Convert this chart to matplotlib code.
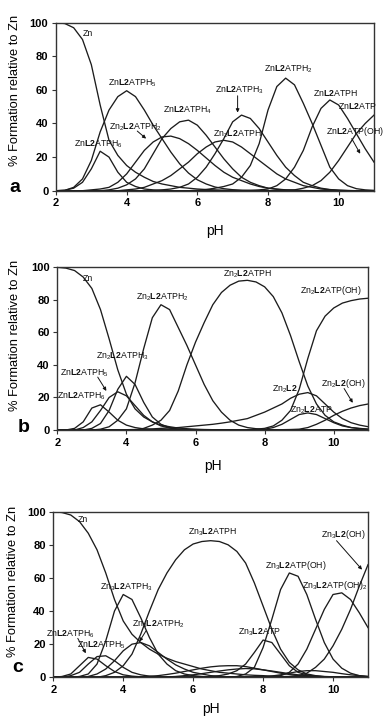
import numpy as np
import matplotlib
matplotlib.use('Agg')
import matplotlib.pyplot as plt

plt.rcParams['font.family'] = ['Liberation Sans', 'DejaVu Sans']
plt.rcParams['mathtext.fontset'] = 'custom'
plt.rcParams['mathtext.rm'] = 'Liberation Sans'
plt.rcParams['mathtext.it'] = 'Liberation Sans'
plt.rcParams['mathtext.bf'] = 'Liberation Sans:bold'

# ---------------- data ----------------
PH = [2.0, 2.25, 2.5, 2.75, 3.0, 3.25, 3.5, 3.75, 4.0, 4.25, 4.5, 4.75,
      5.0, 5.25, 5.5, 5.75, 6.0, 6.25, 6.5, 6.75, 7.0, 7.25, 7.5, 7.75,
      8.0, 8.25, 8.5, 8.75, 9.0, 9.25, 9.5, 9.75, 10.0, 10.25, 10.5, 10.75, 11.0]
X_TICKS = [2, 4, 6, 8, 10]
Y_TICKS = [0, 20, 40, 60, 80, 100]

# panel a
A_ZN = [100, 99.5, 97, 90, 75, 51, 30, 21, 15, 11, 8, 5.5,
        4, 3, 2, 1.5, 1, 0.7, 0.5, 0.3, 0.2, 0.1, 0.1, 0,
        0, 0, 0, 0, 0, 0, 0, 0, 0, 0, 0, 0, 0]
A_ZNL2ATPH6 = [0, 0.3, 1.5, 5, 13, 23.5, 20, 11, 5, 2.5, 1, 0.5,
               0.2, 0, 0, 0, 0, 0, 0, 0, 0, 0, 0, 0,
               0, 0, 0, 0, 0, 0, 0, 0, 0, 0, 0, 0, 0]
A_ZNL2ATPH5 = [0, 0.2, 2, 7, 18, 35, 48, 56, 59.5, 56, 48, 39,
               31, 23, 16, 10.5, 6.5, 4, 2.2, 1.2, 0.6, 0.3, 0.1, 0,
               0, 0, 0, 0, 0, 0, 0, 0, 0, 0, 0, 0, 0]
A_ZN2L2ATPH2 = [0, 0, 0, 0, 0.5, 1, 2, 5, 10, 17, 24, 29,
                32, 32.5, 31, 28, 24, 19.5, 15, 11, 8, 6, 4, 2.5,
                1.5, 1, 0.5, 0.3, 0.1, 0, 0, 0, 0, 0, 0, 0, 0]
A_ZNL2ATPH4 = [0, 0, 0, 0, 0, 0, 0.5, 1.5, 3.5, 7, 13, 22,
               31, 37, 41, 42, 39, 33, 26, 19, 13, 8, 5, 3,
               1.5, 0.8, 0.4, 0.2, 0, 0, 0, 0, 0, 0, 0, 0, 0]
A_ZN2L2ATPH = [0, 0, 0, 0, 0, 0, 0, 0, 0.5, 1, 2, 4,
               6, 9, 13, 17, 22, 26, 29, 30, 29, 26, 22, 18,
               14, 10, 7, 5, 3, 2, 1, 0.6, 0.3, 0.1, 0, 0, 0]
A_ZNL2ATPH3 = [0, 0, 0, 0, 0, 0, 0, 0, 0, 0, 0, 0,
               0.5, 1, 2, 4, 8, 14, 22, 31, 41, 45, 43, 37,
               29, 21, 14, 9, 5, 3, 1.5, 0.7, 0.3, 0.1, 0, 0, 0]
A_ZNL2ATPH2 = [0, 0, 0, 0, 0, 0, 0, 0, 0, 0, 0, 0,
               0, 0, 0, 0, 0.3, 0.7, 1.5, 2.5, 4, 8, 15, 28,
               48, 62, 67, 63, 52, 40, 27, 14, 7, 3, 1.2, 0.5, 0.2]
A_ZNL2ATPH = [0, 0, 0, 0, 0, 0, 0, 0, 0, 0, 0, 0,
              0, 0, 0, 0, 0, 0, 0, 0, 0, 0, 0.2, 0.5,
              1, 3, 7, 14, 24, 38, 49, 54, 51, 43, 34, 25, 17]
A_ZNL2ATP = [0, 0, 0, 0, 0, 0, 0, 0, 0, 0, 0, 0,
             0, 0, 0, 0, 0, 0, 0, 0, 0, 0, 0, 0,
             0, 0, 0.2, 0.5, 1.5, 3, 6, 11, 18, 26, 34, 40, 45]

# panel b
B_ZN = [100, 99.5, 98, 94, 87, 74, 56, 37, 22, 13, 8, 5,
        3, 2, 1.2, 0.8, 0.5, 0.3, 0.2, 0.1, 0, 0, 0, 0,
        0, 0, 0, 0, 0, 0, 0, 0, 0, 0, 0, 0, 0]
B_ZNL2ATPH6 = [0, 0, 1, 5, 13.5, 15.5, 11, 6, 3, 1.5, 0.7, 0.3,
               0, 0, 0, 0, 0, 0, 0, 0, 0, 0, 0, 0,
               0, 0, 0, 0, 0, 0, 0, 0, 0, 0, 0, 0, 0]
B_ZNL2ATPH5 = [0, 0, 0, 1.5, 5, 12, 20, 23.5, 21, 15, 9, 5,
               2.5, 1.2, 0.5, 0.2, 0, 0, 0, 0, 0, 0, 0, 0,
               0, 0, 0, 0, 0, 0, 0, 0, 0, 0, 0, 0, 0]
B_ZN2L2ATPH3 = [0, 0, 0, 0, 1, 4, 12, 25, 33, 28, 17, 8,
                3.5, 1.5, 0.5, 0.2, 0, 0, 0, 0, 0, 0, 0, 0,
                0, 0, 0, 0, 0, 0, 0, 0, 0, 0, 0, 0, 0]
B_ZN2L2ATPH2 = [0, 0, 0, 0, 0, 0.5, 2, 6, 13, 29, 50, 69,
                77, 74, 63, 52, 40, 28, 18, 11, 6, 3, 1.5, 0.8,
                0.3, 0, 0, 0, 0, 0, 0, 0, 0, 0, 0, 0, 0]
B_ZN2L2ATPH = [0, 0, 0, 0, 0, 0, 0, 0, 0, 0, 1, 3,
               6, 12, 24, 40, 54, 66, 77, 84.5, 89, 91.5, 92, 91,
               88, 82, 72, 58, 42, 27, 16, 9, 5, 3, 1.5, 1, 0.5]
B_ZN2L2ATPOH = [0, 0, 0, 0, 0, 0, 0, 0, 0, 0, 0, 0,
                0, 0, 0, 0, 0, 0, 0, 0, 0, 0, 0.2, 0.5,
                1, 2.5, 6, 12, 25, 44, 61, 70, 75, 78, 79.5, 80.5, 81]
B_ZN2L2 = [0, 0, 0, 0, 0, 0, 0, 0, 0.2, 0.3, 0.5, 0.7,
           1, 1.2, 1.5, 2, 2.5, 3, 3.5, 4.2, 5, 6, 7, 9,
           11, 13.5, 16, 19.5, 22, 23, 21, 16, 11, 7, 4.5, 3, 2]
B_ZN2L2ATP = [0, 0, 0, 0, 0, 0, 0, 0, 0, 0, 0, 0,
              0, 0, 0, 0, 0, 0, 0, 0, 0, 0, 0, 0.2,
              0.5, 1.5, 3.5, 6.5, 9.5, 10.5, 9.5, 7, 4.5, 2.5, 1.5, 0.8, 0.5]
B_ZN2L2OH = [0, 0, 0, 0, 0, 0, 0, 0, 0, 0, 0, 0,
             0, 0, 0, 0, 0, 0, 0, 0, 0, 0, 0, 0,
             0, 0, 0.2, 0.3, 0.5, 1.5, 3.5, 6, 9, 11.5, 13.5, 15, 16]

# panel c
C_ZN = [100, 99.5, 98, 94, 87, 77, 63, 47, 34, 26, 21, 17,
        14, 11.5, 9.5, 8, 6.5, 5, 4, 3, 2.5, 2, 1.5, 1.2,
        1, 0.7, 0.5, 0.4, 0.3, 0.2, 0.1, 0, 0, 0, 0, 0, 0]
C_ZNL2ATPH6 = [0, 0.5, 2, 7, 12, 11, 7, 3.5, 1.5, 0.7, 0.3, 0,
               0, 0, 0, 0, 0, 0, 0, 0, 0, 0, 0, 0,
               0, 0, 0, 0, 0, 0, 0, 0, 0, 0, 0, 0, 0]
C_ZNL2ATPH5 = [0, 0, 1, 3, 8, 12.5, 13, 10, 6, 3, 1.5, 0.7,
               0.3, 0, 0, 0, 0, 0, 0, 0, 0, 0, 0, 0,
               0, 0, 0, 0, 0, 0, 0, 0, 0, 0, 0, 0, 0]
C_ZN3L2ATPH3 = [0, 0, 0, 0.5, 2, 8, 22, 40, 50, 47, 36, 24,
                14, 8, 4, 2, 1, 0.5, 0.3, 0, 0, 0, 0, 0,
                0, 0, 0, 0, 0, 0, 0, 0, 0, 0, 0, 0, 0]
C_ZN3L2ATPH2 = [0, 0, 0, 0, 0.5, 2, 5, 10, 16, 20, 21, 19,
                15, 11, 7.5, 5, 3, 2, 1, 0.6, 0.3, 0, 0, 0,
                0, 0, 0, 0, 0, 0, 0, 0, 0, 0, 0, 0, 0]
C_ZN3L2ATPH = [0, 0, 0, 0, 0, 0, 1, 3, 7, 14, 26, 40,
               53, 63, 71, 77, 80.5, 82, 82.5, 82, 80, 76, 69, 57,
               43, 29, 17, 9, 4.5, 2, 1, 0.5, 0.3, 0, 0, 0, 0]
C_ZN3L2ATP = [0, 0, 0, 0, 0, 0, 0, 0, 0, 0, 0, 0,
              0, 0, 0, 0, 0, 0, 0.5, 1, 2, 4, 8, 15,
              22.5, 21, 14, 7, 3, 1.5, 0.7, 0.4, 0.2, 0, 0, 0, 0]
C_ZN3L2ATPOH = [0, 0, 0, 0, 0, 0, 0, 0, 0, 0, 0, 0,
                0, 0, 0, 0, 0, 0, 0, 0, 0, 0.5, 2, 6,
                18, 35, 53, 63, 61, 50, 35, 21, 11, 5.5, 2.5, 1, 0.5]
C_ZN3L2ATPOH2 = [0, 0, 0, 0, 0, 0, 0, 0, 0, 0, 0, 0,
                 0, 0, 0, 0, 0, 0, 0, 0, 0, 0, 0, 0,
                 0.2, 0.5, 1, 3, 8, 17, 29, 41, 50, 51, 47, 39, 30]
C_ZN3L2OH = [0, 0, 0, 0, 0, 0, 0, 0, 0, 0, 0, 0,
             0, 0, 0, 0, 0, 0, 0, 0, 0, 0, 0, 0,
             0, 0, 0.3, 0.5, 1, 2.5, 6, 11, 19, 29, 41, 55, 68]
C_MINOR1 = [0, 0, 0, 0, 0, 0, 0, 0, 0, 0, 0.3, 0.6,
            1, 1.7, 2.5, 3.5, 4.5, 5.5, 6.3, 6.8, 7, 7, 6.5, 5.5,
            4.5, 3.5, 2.5, 1.7, 1, 0.7, 0.4, 0.2, 0.1, 0, 0, 0, 0]
C_MINOR2 = [0, 0, 0, 0, 0, 0, 0, 0, 0, 0, 0, 0,
            0, 0.2, 0.5, 1, 1.5, 2.2, 3, 3.8, 4.5, 5, 5.3, 5.1,
            4.5, 3.8, 3, 2.2, 1.5, 1, 0.6, 0.3, 0.2, 0, 0, 0, 0]
C_MINOR3 = [0, 0, 0, 0, 0, 0, 0, 0, 0, 0, 0, 0,
            0, 0, 0, 0, 0, 0, 0, 0, 0, 0, 0, 0.1,
            0.3, 0.8, 1.5, 2.5, 3.5, 4, 4, 3.5, 3, 2.2, 1.5, 1, 0.5]

SERIES_A = [A_ZN, A_ZNL2ATPH6, A_ZNL2ATPH5, A_ZN2L2ATPH2, A_ZNL2ATPH4,
            A_ZN2L2ATPH, A_ZNL2ATPH3, A_ZNL2ATPH2, A_ZNL2ATPH, A_ZNL2ATP]
SERIES_B = [B_ZN, B_ZNL2ATPH6, B_ZNL2ATPH5, B_ZN2L2ATPH3, B_ZN2L2ATPH2,
            B_ZN2L2ATPH, B_ZN2L2ATPOH, B_ZN2L2, B_ZN2L2ATP, B_ZN2L2OH]
SERIES_C = [C_ZN, C_ZNL2ATPH6, C_ZNL2ATPH5, C_ZN3L2ATPH3, C_ZN3L2ATPH2,
            C_ZN3L2ATPH, C_ZN3L2ATP, C_ZN3L2ATPOH, C_ZN3L2ATPOH2, C_ZN3L2OH,
            C_MINOR1, C_MINOR2, C_MINOR3]

for s in SERIES_A + SERIES_B + SERIES_C:
    assert len(s) == len(PH), len(s)

# labels: (text, pH, %)
L2 = r'$\mathbf{L2}$'
LABELS_A = [
    ('Zn', 2.91, 93.5),
    ('Zn' + L2 + r'ATPH$_5$', 4.15, 64.3),
    ('Zn$_2$' + L2 + r'ATPH$_2$', 4.25, 38.0),
    ('Zn' + L2 + r'ATPH$_6$', 3.19, 28.2),
    ('Zn' + L2 + r'ATPH$_4$', 5.73, 48.0),
    ('Zn' + L2 + r'ATPH$_3$', 7.18, 60.0),
    ('Zn$_2$' + L2 + 'ATPH', 7.14, 34.0),
    ('Zn' + L2 + r'ATPH$_2$', 8.59, 72.8),
    ('Zn' + L2 + 'ATPH', 9.9, 58.3),
    ('Zn' + L2 + 'ATP', 10.52, 51.0),
    ('Zn' + L2 + 'ATP(OH)', 10.47, 35.0),
]
ARROWS_A = [((4.30, 35.5), (4.55, 31.0)),
            ((7.14, 56.5), (7.14, 46.5)),
            ((10.37, 31.0), (10.61, 22.0))]

LABELS_B = [
    ('Zn', 2.89, 93.3),
    ('Zn$_2$' + L2 + r'ATPH$_2$', 5.03, 82.0),
    ('Zn$_2$' + L2 + 'ATPH', 7.5, 96.3),
    ('Zn$_2$' + L2 + 'ATP(OH)', 9.93, 86.0),
    ('Zn$_2$' + L2 + r'ATPH$_3$', 3.89, 45.7),
    ('Zn' + L2 + r'ATPH$_5$', 2.79, 35.1),
    ('Zn' + L2 + r'ATPH$_6$', 2.70, 21.2),
    ('Zn$_2$' + L2, 8.6, 25.0),
    ('Zn$_2$' + L2 + 'ATP', 9.36, 12.7),
    ('Zn$_2$' + L2 + '(OH)', 10.27, 28.6),
]
ARROWS_B = [((3.17, 32.5), (3.42, 24.0)),
            ((10.30, 25.5), (10.55, 16.7))]

LABELS_C = [
    ('Zn', 2.86, 95.0),
    ('Zn$_3$' + L2 + 'ATPH', 6.55, 88.0),
    ('Zn$_3$' + L2 + '(OH)', 10.28, 86.0),
    ('Zn$_3$' + L2 + 'ATP(OH)', 8.94, 67.8),
    ('Zn$_3$' + L2 + r'ATP(OH)$_2$', 10.04, 55.7),
    ('Zn$_3$' + L2 + r'ATPH$_3$', 4.10, 54.7),
    ('Zn$_3$' + L2 + r'ATPH$_2$', 5.00, 32.6),
    ('Zn$_3$' + L2 + 'ATP', 7.88, 27.6),
    ('Zn' + L2 + r'ATPH$_6$', 2.48, 26.0),
    ('Zn' + L2 + r'ATPH$_5$', 3.39, 19.5),
]
ARROWS_C = [((10.10, 82.5), (10.83, 65.0)),
            ((4.65, 28.0), (4.46, 21.5)),
            ((2.70, 23.5), (2.93, 14.5))]

# ---------------- figure ----------------
W, H = 387, 718
fig = plt.figure(figsize=(W / 100, H / 100), dpi=100)
fig.patch.set_facecolor('white')

LINE_C = '#1c1c1c'


def make_panel(left, right, top, bottom, series, labels, arrows, letter,
               letter_xy, ylab_y, xlab_y, ylab_x):
    ax = fig.add_axes([left / W, 1 - bottom / H, (right - left) / W,
                       (bottom - top) / H])
    for s in series:
        ax.plot(PH, s, color=LINE_C, lw=0.95, solid_joinstyle='round')
    ax.set_xlim(2, 11)
    ax.set_ylim(0, 100)
    ax.set_xticks(X_TICKS)
    ax.set_yticks(Y_TICKS)
    ax.tick_params(direction='out', length=3, width=0.8, pad=2.5,
                   labelsize=8, color='#333333')
    for lab in ax.get_xticklabels() + ax.get_yticklabels():
        lab.set_fontweight('bold')
    for sp in ax.spines.values():
        sp.set_linewidth(1.0)
        sp.set_color('#333333')
    for txt, x, y in labels:
        ax.text(x, y, txt, fontsize=6.3, ha='center', va='center',
                color='#111111', clip_on=False)
    for (x0, y0), (x1, y1) in arrows:
        ax.annotate('', xy=(x1, y1), xytext=(x0, y0),
                    arrowprops=dict(arrowstyle='-|>', lw=0.7,
                                    color='#111111', mutation_scale=5,
                                    shrinkA=0, shrinkB=0))
    fig.text(letter_xy[0] / W, 1 - letter_xy[1] / H, letter, fontsize=14,
             fontweight='bold', ha='center', va='center')
    fig.text(ylab_x / W, 1 - ylab_y / H, '% Formation relative to Zn',
             rotation=90, fontsize=9.3, ha='center', va='center')
    fig.text(((left + right) / 2) / W, 1 - xlab_y / H, 'pH', fontsize=10,
             ha='center', va='center')
    return ax


make_panel(56, 374, 22.7, 190.7, SERIES_A, LABELS_A, ARROWS_A, 'a',
           (15, 188), 90, 231, 15)
make_panel(57.3, 368.3, 267.3, 430, SERIES_B, LABELS_B, ARROWS_B, 'b',
           (24, 428), 335, 466, 15)
make_panel(53.3, 368, 511.7, 677.3, SERIES_C, LABELS_C, ARROWS_C, 'c',
           (18, 668), 581, 709, 13)

fig.savefig('out.png', dpi=100, facecolor='white')
